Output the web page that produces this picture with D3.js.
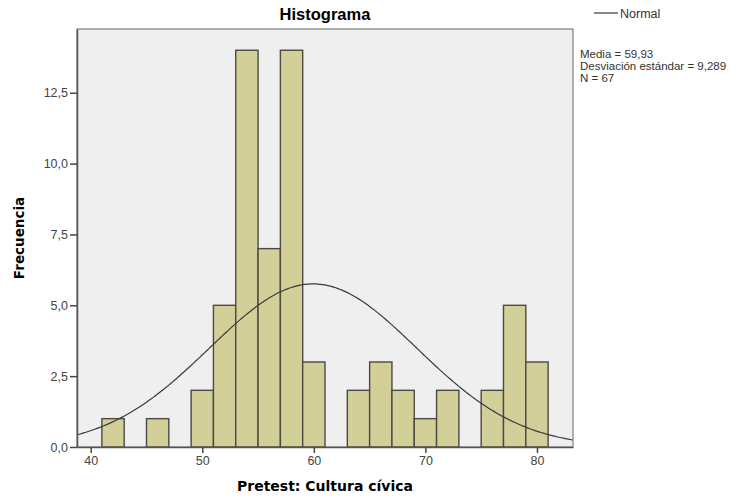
<!DOCTYPE html>
<html>
<head>
<meta charset="utf-8">
<script src="https://cdn.jsdelivr.net/npm/d3@7"></script>
<style>
  body { margin: 0; background: #fff; }
  text { font-family: "Liberation Sans", Arial, sans-serif; }
</style>
</head>
<body>
<div id="chart"></div>
<script>
// histogram bins (lower edge, width 2) and counts
const binStarts = [41, 45, 49, 51, 53, 55, 57, 59, 63, 65, 67, 69, 71, 75, 77, 79];
const counts    = [1, 1, 2, 5, 14, 7, 14, 3, 2, 3, 2, 1, 2, 2, 5, 3];
const binWidth = 2;
const xTicks = [40, 50, 60, 70, 80];
const yTicks = [0, 2.5, 5, 7.5, 10, 12.5];
const stats = { mean: 59.93, sd: 9.289, n: 67 };
const statLines = ["Media = 59,93", "Desviación estándar = 9,289", "N = 67"];

const W = 755, H = 499;
const plotLeft = 77, plotRight = 573, plotTop = 29, plotBottom = 447;

let svg = d3.select("#chart").append("svg")
    .attr("width", W)
    .attr("height", H);

let x = d3.scaleLinear().domain([38.77, 83.23]).range([plotLeft, plotRight]);
let y = d3.scaleLinear().domain([0, 14.75]).range([plotBottom, plotTop]);

const fmt = v => d3.format(".1f")(v).replace(".", ",");

// plot background
svg.append("rect")
    .attr("x", plotLeft).attr("y", plotTop)
    .attr("width", plotRight - plotLeft).attr("height", plotBottom - plotTop)
    .attr("fill", "#efefef")
    .attr("stroke", "#666")
    .attr("stroke-width", 1);

// bars
svg.append("g").selectAll("rect")
    .data(binStarts.map((s, i) => ({ s, c: counts[i] })))
    .enter()
    .append("rect")
    .attr("x", d => x(d.s))
    .attr("y", d => y(d.c))
    .attr("width", d => x(d.s + binWidth) - x(d.s))
    .attr("height", d => y(0) - y(d.c))
    .attr("fill", "#d3cf98")
    .attr("stroke", "#4a4a40")
    .attr("stroke-width", 1.4);

// normal curve
const scaleN = stats.n * binWidth / (stats.sd * Math.sqrt(2 * Math.PI));
const curvePts = d3.range(x.domain()[0], x.domain()[1] + 0.01, 0.2)
    .map(v => [v, scaleN * Math.exp(-0.5 * Math.pow((v - stats.mean) / stats.sd, 2))]);

svg.append("path")
    .datum(curvePts)
    .attr("fill", "none")
    .attr("stroke", "#3a3a3a")
    .attr("stroke-width", 1.2)
    .attr("d", d3.line().x(d => x(d[0])).y(d => y(d[1])));

// axes
let xAxis = svg.append("g")
    .attr("transform", `translate(0,${plotBottom})`)
    .call(d3.axisBottom(x).tickValues(xTicks).tickSize(6).tickSizeOuter(0));
let yAxis = svg.append("g")
    .attr("transform", `translate(${plotLeft},0)`)
    .call(d3.axisLeft(y).tickValues(yTicks).tickFormat(fmt).tickSize(7).tickSizeOuter(0));

[xAxis, yAxis].forEach(a => {
    a.select(".domain").attr("stroke", "#555").attr("stroke-width", 1.5);
    a.selectAll(".tick line").attr("stroke", "#444").attr("stroke-width", 1.5);
    a.selectAll(".tick text")
        .attr("fill", "#444")
        .style("font-size", "12.5px")
        .style("font-family", "'Liberation Sans', Arial, sans-serif");
});
yAxis.selectAll(".tick text").attr("x", -9);
xAxis.selectAll(".tick text").attr("y", 9);

// title
svg.append("text")
    .attr("x", (plotLeft + plotRight) / 2).attr("y", 20)
    .attr("text-anchor", "middle")
    .style("font-size", "16.5px")
    .style("font-weight", "bold")
    .text("Histograma");

// axis labels
svg.append("text")
    .attr("x", (plotLeft + plotRight) / 2).attr("y", 491)
    .attr("text-anchor", "middle")
    .style("font-family", "'DejaVu Sans', Verdana, sans-serif")
    .style("font-size", "14px")
    .style("font-weight", "bold")
    .text("Pretest: Cultura cívica");

svg.append("text")
    .attr("transform", `translate(24,${(plotTop + plotBottom) / 2}) rotate(-90)`)
    .attr("text-anchor", "middle")
    .style("font-family", "'DejaVu Sans', Verdana, sans-serif")
    .style("font-size", "13.5px")
    .style("font-weight", "bold")
    .text("Frecuencia");

// legend
svg.append("line")
    .attr("x1", 594).attr("x2", 618)
    .attr("y1", 13).attr("y2", 13)
    .attr("stroke", "#3a3a3a").attr("stroke-width", 1.2);
svg.append("text")
    .attr("x", 620).attr("y", 17.5)
    .attr("fill", "#333")
    .style("font-size", "12.5px")
    .text("Normal");

svg.append("g").selectAll("text")
    .data(statLines)
    .enter()
    .append("text")
    .attr("x", 580)
    .attr("y", (d, i) => 58 + i * 12)
    .attr("fill", "#333")
    .style("font-size", "11.5px")
    .text(d => d);
</script>
</body>
</html>
